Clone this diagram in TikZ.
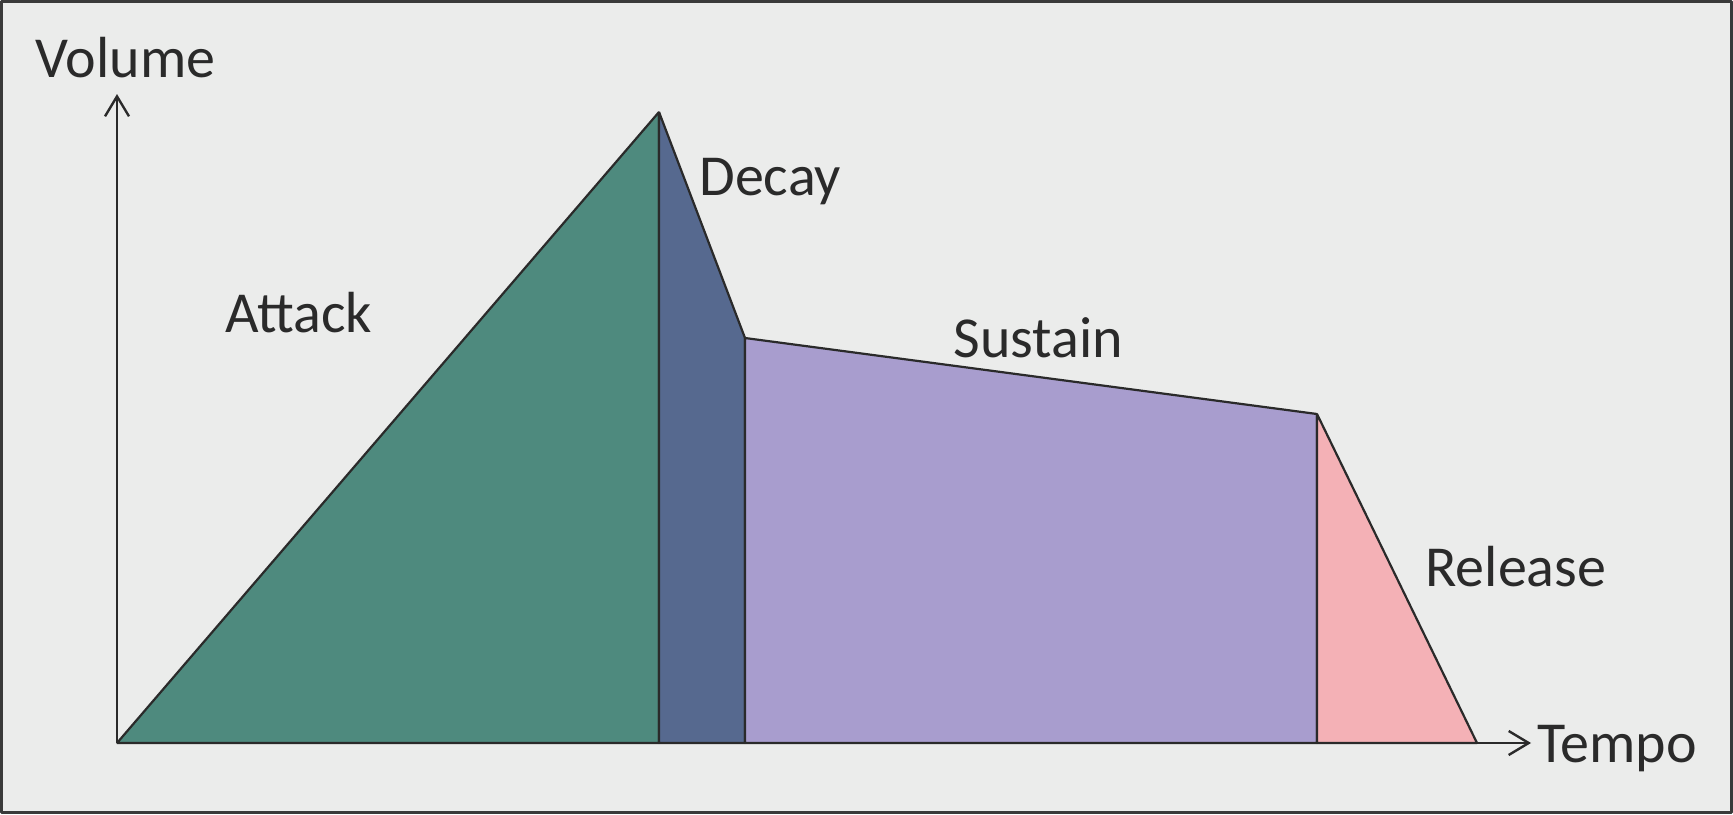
\documentclass[tikz,border=0pt]{standalone}
\usepackage{fontspec}
\setmainfont{Carlito}
\usepackage{tikz}
\usetikzlibrary{arrows.meta}

\definecolor{bgcol}{HTML}{EBECEB}
\definecolor{framecol}{HTML}{3A3A3A}
\definecolor{inkcol}{HTML}{2A2A2A}
\definecolor{attackcol}{HTML}{4E8A7E}
\definecolor{decaycol}{HTML}{56698F}
\definecolor{sustaincol}{HTML}{A89DCE}
\definecolor{releasecol}{HTML}{F4B1B6}

\tikzset{
  phase/.style={draw=inkcol, line width=1.1pt},
  axis/.style={draw=inkcol, line width=1.2pt, ->},
  lbl/.style={text=inkcol, font=\fontsize{29}{33}\selectfont, inner sep=0pt, anchor=base west},
}

\begin{document}
\begin{tikzpicture}[x=0.5pt,y=-0.5pt,line join=bevel,
  >={Straight Barb[length=10pt,width=12pt,line width=1.2pt]}]
  \useasboundingbox (0,0) rectangle (1733,814);
%%
  \draw [fill=bgcol, draw=framecol, line width=1.5pt] (1.5,1.5) rectangle (1731.5,812.5);
  % Points
  \coordinate (o) at (117,743);
  \coordinate (ytip) at (117,94);
  \coordinate (xtip) at (1531,743);
  \coordinate (peak) at (659,112);
  \coordinate (peakb) at (659,743);
  \coordinate (dend) at (745,338);
  \coordinate (dendb) at (745,743);
  \coordinate (send) at (1317,414);
  \coordinate (sendb) at (1317,743);
  \coordinate (rend) at (1477,743);
  % Phase: attack
  \draw [phase, fill=attackcol] (o) -- (peak) -- (peakb) -- cycle;
  % Phase: decay
  \draw [phase, fill=decaycol] (peakb) -- (peak) -- (dend) -- (dendb) -- cycle;
  % Phase: sustain
  \draw [phase, fill=sustaincol] (dendb) -- (dend) -- (send) -- (sendb) -- cycle;
  % Phase: release
  \draw [phase, fill=releasecol] (sendb) -- (send) -- (rend) -- cycle;
  % Edge: axes
  \draw [axis] (o) -- (ytip);
  \draw [axis] (o) -- (xtip);
  % Node: labels
  \node [lbl] (volume) at (35,77) {Volume};
  \node [lbl] (tempo) at (1537,762) {Tempo};
  \node [lbl] (attack) at (225,332) {Attack};
  \node [lbl] (decay) at (699,195) {Decay};
  \node [lbl] (sustain) at (953,357) {Sustain};
  \node [lbl] (release) at (1425,586) {Release};
%
\end{tikzpicture}
\end{document}
